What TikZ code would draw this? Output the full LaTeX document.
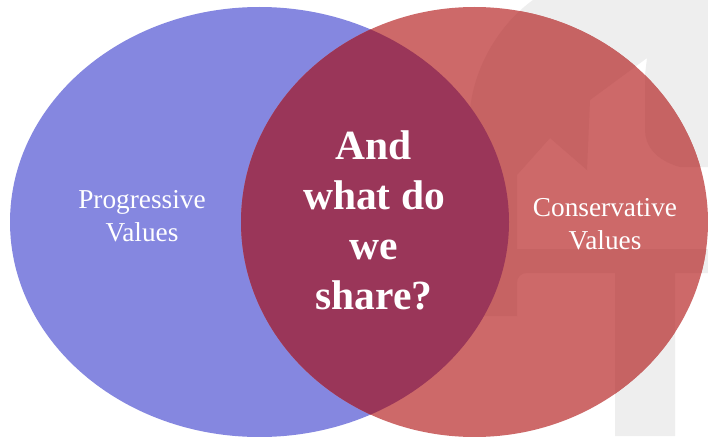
\documentclass[tikz,border=0pt]{standalone}
\usepackage{fontspec}
\setmainfont{Liberation Serif}
\usetikzlibrary{positioning}
\definecolor{progblue}{HTML}{8587E0}
\definecolor{consred}{HTML}{CD6969}
\definecolor{consdark}{HTML}{C66363}
\definecolor{shared}{HTML}{9A3659}
\definecolor{wmgray}{HTML}{EEEEEE}

\newcommand{\wmpath}{(533,0) -- (708,0) -- (708,167) -- (680,167) .. controls (655,160) and (645,145) .. (645,130)
		-- (645,75) -- (647,58) -- (590,100) -- (587,170) -- (550,138) -- (517,175) -- (517,249)
		-- (708,249) -- (708,273) -- (675,273) -- (675,436) -- (615,436) -- (615,273) -- (527,273)
		.. controls (521,273) and (517,277) .. (517,283) -- (517,316) -- (470,316) -- (470,110)
		.. controls (475,60) and (505,20) .. (533,0) -- cycle}
\newcommand{\redpath}{(474.5,222) ellipse [x radius=233.5,y radius=215]}
\newcommand{\bluepath}{(259.5,222) ellipse [x radius=249.5,y radius=215]}

\tikzset{
	circlelabel/.style={white,align=center,font=\fontsize{27.3}{33}\selectfont},
	sharelabel/.style={white,align=center,font=\fontsize{41.5}{50}\selectfont\bfseries}
}

\begin{document}
\begin{tikzpicture}[x=1pt,y=-1pt]
	\useasboundingbox (0,0) rectangle (708,436);
	\fill[white] (0,0) rectangle (708,436);

	% faint watermark behind the right circle
	\fill[wmgray] \wmpath;

	% the two value circles
	\fill[progblue] \bluepath;
	\fill[consred] \redpath;
	\begin{scope}
		\clip \redpath;
		\fill[consdark] \wmpath;
	\end{scope}

	% overlap
	\begin{scope}
		\clip \bluepath;
		\fill[shared] \redpath;
	\end{scope}

	% labels
	\node[circlelabel] (prog) at (142,216) {Progressive\\Values};
	\node[circlelabel] (cons) at (605,224) {Conservative\\Values};
	\node[sharelabel] (share) at (374,220) {And\\what do\\we\\share?};
\end{tikzpicture}
\end{document}
